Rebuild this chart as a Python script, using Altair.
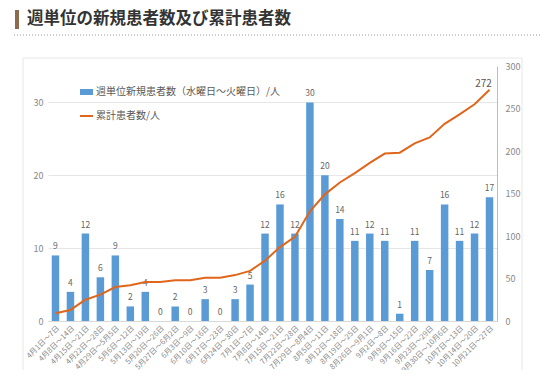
import altair as alt
import pandas as pd

weeks = ["4月1日～7日", "4月8日～14日", "4月15日～21日", "4月22日～28日", "4月29日～5月5日",
         "5月6日～12日", "5月13日～19日", "5月20日～26日", "5月27日～6月2日", "6月3日～9日",
         "6月10日～16日", "6月17日～23日", "6月24日～30日", "7月1日～7日", "7月8日～14日",
         "7月15日～21日", "7月22日～28日", "7月29日～8月4日", "8月5日～11日", "8月12日～18日",
         "8月19日～25日", "8月26日～9月1日", "9月2日～8日", "9月9日～15日", "9月16日～22日",
         "9月23日～29日", "9月30日～10月6日", "10月7日～13日", "10月14日～20日", "10月21日～27日"]
new_cases = [9, 4, 12, 6, 9, 2, 4, 0, 2, 0, 3, 0, 3, 5, 12, 16, 12, 30, 20, 14,
             11, 12, 11, 1, 11, 7, 16, 11, 12, 17]
cumulative = [9, 13, 25, 31, 40, 42, 46, 46, 48, 48, 51, 51, 54, 59, 71, 87, 99, 129, 149, 163,
              174, 186, 197, 198, 209, 216, 232, 243, 255, 272]
left_ticks = [0, 10, 20, 30]
right_ticks = [0, 50, 100, 150, 200, 250, 300]
title_text = "週単位の新規患者数及び累計患者数"
legend_bar = "週単位新規患者数（水曜日～火曜日）/人"
legend_line = "累計患者数/人"

df = pd.DataFrame({"week": weeks, "new": new_cases, "cum": cumulative})
df["last"] = [i == len(weeks) - 1 for i in range(len(weeks))]
one = pd.DataFrame({"a": [0]})

FONT = "Noto Sans CJK JP"
BLUE = "#5B9BD5"
ORANGE = "#E0661B"

xenc = alt.X("week:N", sort=weeks,
             scale=alt.Scale(paddingInner=0.5, paddingOuter=0.25),
             axis=alt.Axis(title=None, labelAngle=-45, labelFontSize=7.5, labelColor="#888",
                           ticks=False, domainColor="#d9d9d9", labelPadding=3, labelFont=FONT))

left_axis = alt.Axis(values=left_ticks, title=None, grid=True, gridColor="#e6e6e6",
                     domain=False, ticks=False, labelColor="#888", labelFontSize=9,
                     labelPadding=5, labelFont=FONT)
right_axis = alt.Axis(values=right_ticks, title=None, grid=False, orient="right",
                      domain=True, domainColor="#9DC3E6", ticks=False, labelColor="#888",
                      labelFontSize=9, labelPadding=8, labelFont=FONT)

yl = alt.Y("new:Q", scale=alt.Scale(domain=[0, 35]), axis=left_axis)
yr = alt.Y("cum:Q", scale=alt.Scale(domain=[0, 300]), axis=right_axis)

base = alt.Chart(df)

box = alt.Chart(one).mark_rect(fillOpacity=0, stroke="#e6e6e6", strokeWidth=1).encode(
    x=alt.value(-25), x2=alt.value(474), y=alt.value(-8), y2=alt.value(400))
title_bar = alt.Chart(one).mark_rect(color="#8C6B4F").encode(
    x=alt.value(-33), x2=alt.value(-29), y=alt.value(-56), y2=alt.value(-37))
title = alt.Chart(one).mark_text(text=title_text, align="left", baseline="middle",
                                 fontSize=16.5, fontWeight="bold", color="#333333", font=FONT).encode(
    x=alt.value(-21), y=alt.value(-47))
dotted = alt.Chart(one).mark_rule(color="#999999", strokeDash=[1, 2], strokeWidth=1).encode(
    x=alt.value(-34), x2=alt.value(501), y=alt.value(-31))

leg_rect = alt.Chart(one).mark_rect(color=BLUE).encode(
    x=alt.value(32), x2=alt.value(45), y=alt.value(23), y2=alt.value(29))
leg_text1 = alt.Chart(one).mark_text(text=legend_bar, align="left", baseline="middle",
                                     fontSize=10, color="#595959", font=FONT).encode(
    x=alt.value(48), y=alt.value(26))
leg_line = alt.Chart(one).mark_rule(color=ORANGE, strokeWidth=2).encode(
    x=alt.value(32), x2=alt.value(45), y=alt.value(50))
leg_text2 = alt.Chart(one).mark_text(text=legend_line, align="left", baseline="middle",
                                     fontSize=10, color="#595959", font=FONT).encode(
    x=alt.value(48), y=alt.value(50))

bars = base.mark_bar(color=BLUE).encode(x=xenc, y=yl)
bar_text = base.mark_text(baseline="bottom", dy=-4, fontSize=8.5, color="#666", font=FONT).encode(
    x=xenc, y=yl, text="new:Q")

line = base.mark_line(color=ORANGE, strokeWidth=2).encode(x=xenc, y=yr)
line_text = base.transform_filter("datum.last").mark_text(
    baseline="bottom", dx=-6, dy=-1, fontSize=10, color="#555", font=FONT).encode(
    x=xenc, y=yr, text="cum:Q")

left_group = alt.layer(box, title_bar, title, dotted, bars, bar_text,
                       leg_rect, leg_text1, leg_line, leg_text2)
right_group = alt.layer(line, line_text)

chart = alt.layer(left_group, right_group).resolve_scale(y="independent").properties(
    width=449, height=255,
    autosize=alt.AutoSizeParams(type="none"),
    padding={"left": 40, "top": 58, "right": 44, "bottom": 49},
).configure_view(stroke=None)

chart.save("out.html", embed_options={"renderer": "svg", "actions": False})
